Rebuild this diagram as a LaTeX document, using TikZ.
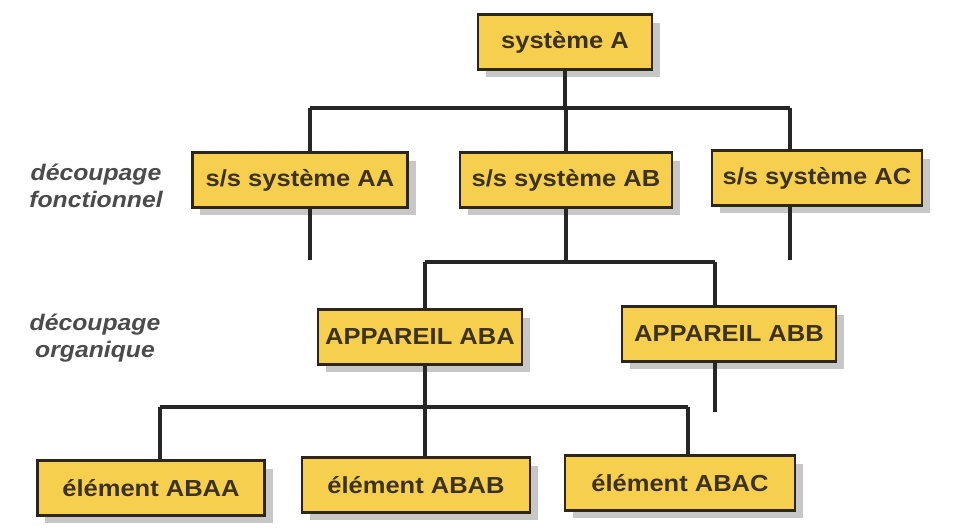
\documentclass[tikz,border=0pt]{standalone}
\usepackage{fontspec}
\setsansfont{Liberation Sans}[FakeStretch=1.1]
\usepackage{tikz}
\usetikzlibrary{shadows}
\definecolor{boxyellow}{RGB}{246,207,78}
\definecolor{boxline}{RGB}{45,38,25}
\definecolor{boxtext}{RGB}{60,50,30}
\definecolor{labelgray}{RGB}{75,75,75}

\begin{document}
\begin{tikzpicture}
		[x=0.025cm,y=-0.025cm,
		box/.style={rectangle,draw=boxline,fill=boxyellow,line width=2pt,
minimum height=1.37cm,inner sep=0pt,text=boxtext,
font=\sffamily\bfseries\fontsize{16.5}{18}\selectfont,
drop shadow={shadow xshift=0.2cm,shadow yshift=-0.2cm,fill=black!22,opacity=1}},
		cut/.style={align=center,text=labelgray,
font=\sffamily\bfseries\itshape\fontsize{16}{19.5}\selectfont},
		link/.style={-,line width=2.2pt,black!85}]
		\useasboundingbox (0,0) rectangle (954,530);
		\node at (565,42) (sysA) [box,minimum width=4.35cm] {système A};
		\node at (300,180) (ssAA) [box,minimum width=5.38cm] {s/s système AA};
		\node at (566,180) (ssAB) [box,minimum width=5.3cm] {s/s système AB};
		\node at (817,178) (ssAC) [box,minimum width=5.25cm] {s/s système AC};
		\node at (420,337) (ABA) [box,minimum width=5.1cm] {APPAREIL ABA};
		\node at (729,334) (ABB) [box,minimum width=5.35cm] {APPAREIL ABB};
		\node at (151,488) (ABAA) [box,minimum width=5.68cm] {élément ABAA};
		\node at (416,485) (ABAB) [box,minimum width=5.7cm] {élément ABAB};
		\node at (680,483) (ABAC) [box,minimum width=5.75cm] {élément ABAC};
		\node at (96,186) (fonct) [cut] {découpage\\fonctionnel};
		\node at (95,338) (organ) [cut] {découpage\\organique};
		\coordinate (jAA) at (310,108);
		\coordinate (jAC) at (790,108);
		\coordinate (eAA) at (310,260);
		\coordinate (eAC) at (790,260);
		\coordinate (jABA) at (425,262);
		\coordinate (jABB) at (715,262);
		\coordinate (eABB) at (715,412);
		\coordinate (jABAA) at (160,407);
		\coordinate (jABAC) at (688,407);
		\draw[link] (sysA) -- (sysA |- jAA);
		\draw[link] (jAA) -- (jAC);
		\draw[link] (jAA) -- (jAA |- ssAA.north);
		\draw[link] (ssAB |- jAA) -- (ssAB);
		\draw[link] (jAC) -- (jAC |- ssAC.north);
		\draw[link] (jAA |- ssAA.south) -- (eAA);
		\draw[link] (jAC |- ssAC.south) -- (eAC);
		\draw[link] (ssAB) -- (ssAB |- jABA);
		\draw[link] (jABA) -- (jABB);
		\draw[link] (jABA) -- (jABA |- ABA.north);
		\draw[link] (jABB) -- (jABB |- ABB.north);
		\draw[link] (jABB |- ABB.south) -- (eABB);
		\draw[link] (jABA |- ABA.south) -- (jABA |- jABAA);
		\draw[link] (jABAA) -- (jABAC);
		\draw[link] (jABAA) -- (jABAA |- ABAA.north);
		\draw[link] (jABA |- jABAA) -- (jABA |- ABAB.north);
		\draw[link] (jABAC) -- (jABAC |- ABAC.north);
	\end{tikzpicture}
\end{document}
